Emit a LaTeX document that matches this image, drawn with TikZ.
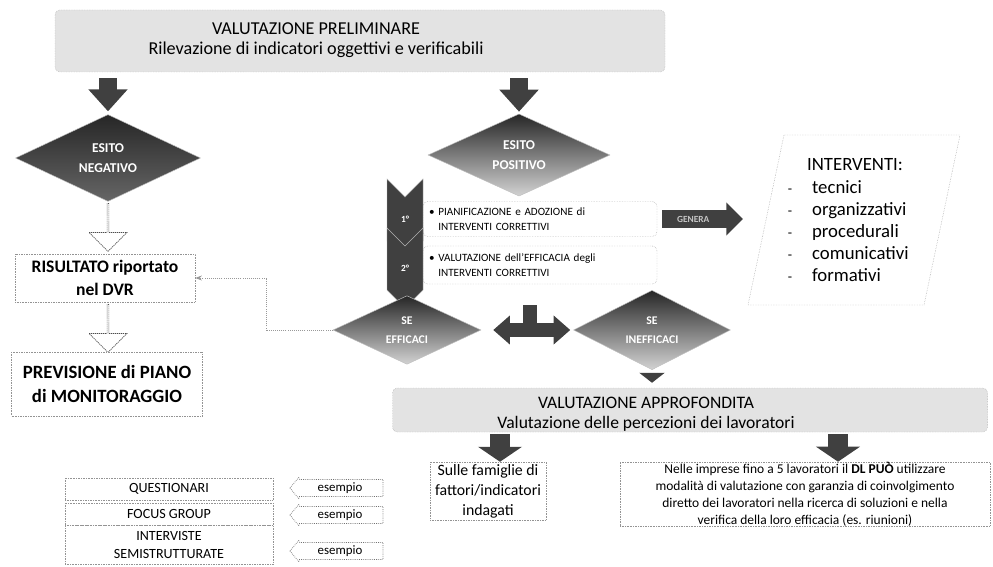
\documentclass[tikz,border=0pt]{standalone}
\usepackage{fontspec}
\setmainfont{Carlito}
\usetikzlibrary{shapes.geometric,shapes.arrows,shapes.symbols,arrows.meta}
\newcommand{\upx}{0.03cm}

\begin{document}
\begin{tikzpicture}[x=0.03cm,y=-0.03cm,
  graybox/.style={draw=gray!75, densely dotted, fill=gray!22, rounded corners=4pt, align=center, inner sep=0pt},
  whitebox/.style={draw=gray!85, densely dotted, fill=white, align=center, inner sep=0pt},
  decision/.style={diamond, draw=gray!50, inner sep=0pt, align=center, text=white},
  bigarrow/.style={draw=black!75, line width=0.56cm, -{Triangle[length=0.66cm,width=1.14cm]}},
  midarrow/.style={draw=black!75, line width=0.6cm, -{Triangle[length=0.45cm,width=1.3cm]}},
  smallarrow/.style={draw=black!75, line width=0.36cm, -{Triangle[length=0.3cm,width=0.75cm]}},
  hollowarrow/.style={single arrow, draw=black!70, dash pattern=on 1pt off 0.7pt, semithick, fill=white, shape border rotate=270,
    minimum height=1.44cm, minimum width=1.14cm, single arrow head extend=0.22cm, inner sep=0pt},
  examplearrow/.style={single arrow, draw=black!55, densely dotted, semithick, fill=white, shape border rotate=180,
    minimum height=2.79cm, minimum width=0.66cm, single arrow head extend=0.06cm, single arrow tip angle=100,
    inner sep=1pt, font=\fontsize{11}{13}\selectfont},
  stepmark/.style={signal, signal from=north, signal to=south, fill=black!75, draw=gray!60, text=white,
    minimum width=1.08cm, minimum height=1.56cm, inner sep=0pt, font=\fontsize{8}{9}\selectfont\bfseries},
  dotline/.style={draw=gray!80, densely dotted, thick, -{Stealth[length=2mm]}}
]
\useasboundingbox (0,0) rectangle (993,566);

\node[graybox, minimum width=610*\upx, minimum height=62*\upx] (prelim) at (360,41) {};
\node[align=center, font=\fontsize{15.5}{17.5}\selectfont] (prelim-text) at (316,40)
  {VALUTAZIONE PRELIMINARE\\Rilevazione di indicatori oggettivi e verificabili};

\node[decision, minimum width=185*\upx, minimum height=72*\upx, top color=black!85, bottom color=black!60,
  font=\fontsize{11.5}{17}\selectfont\bfseries] (neg) at (108,158) {ESITO\\NEGATIVO};
\node[decision, minimum width=182*\upx, minimum height=70*\upx, top color=black!85, bottom color=gray!35,
  font=\fontsize{11.5}{17}\selectfont\bfseries] (pos) at (519,155) {ESITO\\POSITIVO};
\draw[bigarrow] ([yshift=-6*\upx]prelim.south -| neg.north) -- ([yshift=3*\upx]neg.north);
\draw[bigarrow] ([yshift=-6*\upx]prelim.south -| pos.north) -- ([yshift=2*\upx]pos.north);

\node[hollowarrow] (hol1) at (108,227) {};
\node[whitebox, minimum width=180*\upx, minimum height=48*\upx, font=\fontsize{15}{19}\selectfont\bfseries] (ris) at (105,278)
  {RISULTATO riportato\\nel DVR};
\node[hollowarrow] (hol2) at (108,328) {};
\node[whitebox, minimum width=191*\upx, minimum height=64*\upx, font=\fontsize{16}{21}\selectfont\bfseries] (prev) at (107,384)
  {PREVISIONE di PIANO\\di MONITORAGGIO};

\node[whitebox, rounded corners=4pt, minimum width=234*\upx, minimum height=35*\upx, text width=222*\upx, align=left,
  font=\fontsize{9.5}{12.5}\selectfont] (plan) at (540,219)
  {\textbullet\ PIANIFICAZIONE e ADOZIONE di\\\phantom{\textbullet\ }INTERVENTI CORRETTIVI};
\node[whitebox, rounded corners=4pt, minimum width=234*\upx, minimum height=38*\upx, text width=222*\upx, align=left,
  font=\fontsize{9.5}{12.5}\selectfont] (check) at (540,265)
  {\textbullet\ VALUTAZIONE dell'EFFICACIA degli\\\phantom{\textbullet\ }INTERVENTI CORRETTIVI};
\node[stepmark] (step1) at (405,219) {1°};
\node[stepmark] (step2) at (405,268) {2°};

\draw[whitebox] (784,135) coordinate (par-a) -- (960,135) coordinate (par-b)
  -- (924,305) coordinate (par-c) -- (748,305) coordinate (par-d) -- cycle;
\coordinate (gen-end) at (743,219);
\draw[draw=black!75, line width=0.54cm, -{Triangle[length=0.5cm,width=0.96cm]}, shorten <=5*\upx] (plan.east) -- (gen-end)
  node[pos=0.42, text=gray!45, font=\fontsize{8}{9}\selectfont\bfseries] (gen-label) {GENERA};
\node[anchor=west, font=\fontsize{16}{18}\selectfont] (int-title) at (803,165) {INTERVENTI:};
\foreach \t [count=\i] in {tecnici,organizzativi,procedurali,comunicativi,formativi} {
  \node[anchor=base west, font=\fontsize{16}{18}\selectfont] (int-\i) at (808,172+21.8*\i) {\t};
  \node[anchor=base, font=\fontsize{12}{14}\selectfont] (dash-\i) at (int-\i.base west) [xshift=-18*\upx] {-};
}

\node[decision, minimum width=148*\upx, minimum height=60*\upx, top color=black!85, bottom color=gray!35,
  font=\fontsize{10}{16}\selectfont\bfseries] (eff) at (407,330) {SE\\EFFICACI};
\node[decision, minimum width=157*\upx, minimum height=58*\upx, top color=black!85, bottom color=gray!35,
  font=\fontsize{10}{16}\selectfont\bfseries] (ineff) at (652,330) {SE\\INEFFICACI};
\coordinate (stem-top) at (530,305);
\draw[draw=black!75, line width=0.4cm] (stem-top) -- (stem-top |- eff.east);
\draw[draw=black!75, line width=0.42cm, {Triangle[length=0.5cm,width=0.84cm]}-{Triangle[length=0.5cm,width=0.84cm]},
  shorten <=12*\upx, shorten >=3*\upx] (eff.east) -- (ineff.west);
\draw[dotline] (eff.west) -- ++(-66,0) |- (ris.east);

\node[graybox, minimum width=595*\upx, minimum height=44*\upx] (appro) at (690,410) {};
\node[align=center, font=\fontsize{15}{17}\selectfont] (appro-text) at (646,414)
  {VALUTAZIONE APPROFONDITA\\Valutazione delle percezioni dei lavoratori};
\draw[smallarrow, shorten <=3*\upx, shorten >=5*\upx] (ineff.south) -- (ineff.south |- appro.north);

\node[whitebox, minimum width=116*\upx, minimum height=58*\upx, font=\fontsize{13.5}{17}\selectfont] (fam) at (488,491)
  {Sulle famiglie di\\fattori/indicatori\\indagati};
\node[whitebox, minimum width=370*\upx, minimum height=62*\upx, font=\fontsize{11.5}{14.5}\selectfont] (dl) at (805,494)
  {Nelle imprese fino a 5 lavoratori il \textbf{DL PUÒ} utilizzare\\modalità di valutazione con garanzia di coinvolgimento\\
   diretto dei lavoratori nella ricerca di soluzioni e nella\\verifica della loro efficacia (es. riunioni)};
\draw[midarrow, shorten <=2*\upx] ([xshift=12*\upx]appro.south -| fam.north) -- ([xshift=12*\upx]fam.north);
\draw[midarrow, shorten <=2*\upx] ([xshift=33*\upx]appro.south -| dl.north) -- ([xshift=33*\upx]dl.north);

\node[whitebox, minimum width=208*\upx, minimum height=22*\upx, font=\fontsize{12}{14}\selectfont] (quest) at (169,489) {QUESTIONARI};
\node[whitebox, minimum width=208*\upx, minimum height=22*\upx, font=\fontsize{12}{14}\selectfont] (focus) at (169,514) {FOCUS GROUP};
\node[whitebox, minimum width=208*\upx, minimum height=39*\upx, font=\fontsize{12}{16}\selectfont] (interv) at (169,545)
  {INTERVISTE\\SEMISTRUTTURATE};
\node[examplearrow] (ex1) at (340,488) {esempio};
\node[examplearrow] (ex2) at (340,515) {esempio};
\node[examplearrow] (ex3) at (340,551) {esempio};
\end{tikzpicture}
\end{document}
